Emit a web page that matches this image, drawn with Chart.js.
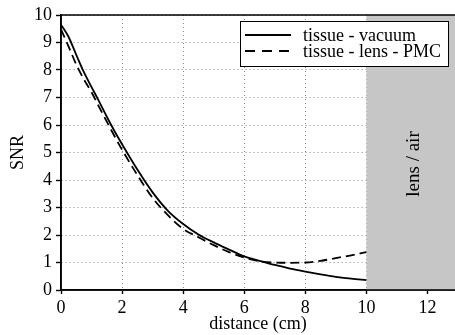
<!DOCTYPE html>
<html><head><meta charset="utf-8">
<script src="https://cdn.jsdelivr.net/npm/chart.js@4"></script>
<style>html,body{margin:0;padding:0;background:#fff}#wrap{width:455px;height:335px;position:relative}</style>
</head><body><div id="wrap"><canvas id="c" width="455" height="335"></canvas></div>
<script>
const distance      = [0,0.25,0.5,0.75,1,1.25,1.5,1.75,2,2.5,3,3.5,4,4.5,5,5.5,6,6.5,7,7.5,8,8.5,9,9.5,10];
const tissueVacuum  = [9.65,9.2,8.55,7.92,7.38,6.85,6.3,5.78,5.3,4.38,3.55,2.88,2.4,2.02,1.73,1.47,1.22,1.06,0.91,0.78,0.67,0.57,0.48,0.41,0.36];
const tissueLensPMC = [9.48,8.85,8.2,7.66,7.19,6.65,6.12,5.6,5.1,4.18,3.35,2.72,2.22,1.92,1.63,1.38,1.18,1.05,1.0,0.99,1.0,1.06,1.16,1.26,1.38];
const seriesLabels  = ['tissue - vacuum', 'tissue - lens - PMC'];
const regionStart   = 10;
const regionLabel   = 'lens / air';
const xTitle = 'distance (cm)';
const yTitle = 'SNR';
const xMin = 0, xMax = 12.9, xStep = 2;
const yMin = 0, yMax = 10, yStep = 1;

const FONT = "'Liberation Serif', 'Times New Roman', serif";
const FS = 18;

const pts = ys => distance.map((x, i) => ({x, y: ys[i]}));

const overlay = {
  id: 'overlay',
  beforeDatasetsDraw(chart) {
    const {ctx, chartArea: a, scales: {x}} = chart;
    const x0 = x.getPixelForValue(regionStart);
    ctx.save();
    ctx.fillStyle = '#c6c6c6';
    ctx.fillRect(x0, a.top, a.right - x0, a.bottom - a.top);
    ctx.restore();
  },
  afterDraw(chart) {
    const {ctx, chartArea: a, scales: {x}} = chart;
    ctx.save();
    ctx.strokeStyle = '#000';
    ctx.lineWidth = 1.6;
    ctx.setLineDash([]);
    ctx.beginPath();
    ctx.moveTo(a.left, a.top); ctx.lineTo(a.right, a.top);
    ctx.moveTo(a.left, a.top); ctx.lineTo(a.left, a.bottom);
    ctx.moveTo(a.left - 1, a.bottom); ctx.lineTo(a.right, a.bottom);
    ctx.stroke();
    const x0 = x.getPixelForValue(regionStart);
    ctx.translate((x0 + a.right) / 2 + 3, 164);
    ctx.rotate(-Math.PI / 2);
    ctx.fillStyle = '#000';
    ctx.font = (FS + 1) + 'px ' + FONT;
    ctx.textAlign = 'center';
    ctx.textBaseline = 'middle';
    ctx.fillText(regionLabel, 0, 0);
    ctx.restore();

    ctx.save();
    const bx = 240, by = 21, bw = 208, bh = 45;
    ctx.fillStyle = '#fff';
    ctx.fillRect(bx, by, bw, bh);
    ctx.strokeStyle = '#000';
    ctx.lineWidth = 1;
    ctx.strokeRect(bx + 0.5, by + 0.5, bw, bh);
    const ds = chart.data.datasets;
    const rows = [35, 51];
    ctx.font = FS + 'px ' + FONT;
    ctx.textBaseline = 'middle';
    ctx.textAlign = 'left';
    ds.forEach((d, i) => {
      ctx.beginPath();
      ctx.lineWidth = 1.8;
      ctx.setLineDash(i === 1 ? [10, 7] : []);
      ctx.moveTo(245, rows[i]); ctx.lineTo(291, rows[i]);
      ctx.stroke();
      ctx.setLineDash([]);
      ctx.fillStyle = '#000';
      ctx.fillText(d.label, 303, rows[i] + 1);
    });
    ctx.restore();
  }
};

new Chart(document.getElementById('c'), {
  type: 'line',
  data: {
    datasets: [
      {label: seriesLabels[0], data: pts(tissueVacuum), borderColor: '#000', borderWidth: 1.8, pointRadius: 0, cubicInterpolationMode: 'monotone', fill: false},
      {label: seriesLabels[1], data: pts(tissueLensPMC), borderColor: '#000', borderWidth: 1.8, borderDash: [9, 5], pointRadius: 0, cubicInterpolationMode: 'monotone', fill: false}
    ]
  },
  options: {
    responsive: false,
    animation: false,
    devicePixelRatio: 1,
    layout: {padding: {top: 15, right: 0, left: 0, bottom: 0}},
    plugins: {legend: {display: false}, tooltip: {enabled: false}},
    scales: {
      x: {
        type: 'linear', min: xMin, max: xMax,
        ticks: {stepSize: xStep, includeBounds: false, color: '#000', font: {family: FONT, size: FS}, padding: 3, maxRotation: 0},
        grid: {color: '#888', lineWidth: 1, tickColor: '#000', tickLength: 4, tickWidth: 1.4, tickBorderDash: []},
        border: {display: true, color: '#000', width: 1.6, dash: [1, 3]},
        title: {display: true, text: xTitle, color: '#000', font: {family: FONT, size: FS}, padding: {top: 0, bottom: 0}},
        afterFit(s) { s.height = 45; }
      },
      y: {
        min: yMin, max: yMax,
        ticks: {stepSize: yStep, color: '#000', font: {family: FONT, size: FS}, padding: 4},
        grid: {color: '#888', lineWidth: 1, tickColor: '#000', tickLength: 5, tickWidth: 1.4, tickBorderDash: []},
        border: {display: true, color: '#000', width: 1.6, dash: [1, 3]},
        title: {display: true, text: yTitle, color: '#000', font: {family: FONT, size: FS}, padding: {top: 7, bottom: 0}},
        afterFit(s) { s.width = 61; }
      }
    }
  },
  plugins: [overlay]
});
</script>
</body></html>
